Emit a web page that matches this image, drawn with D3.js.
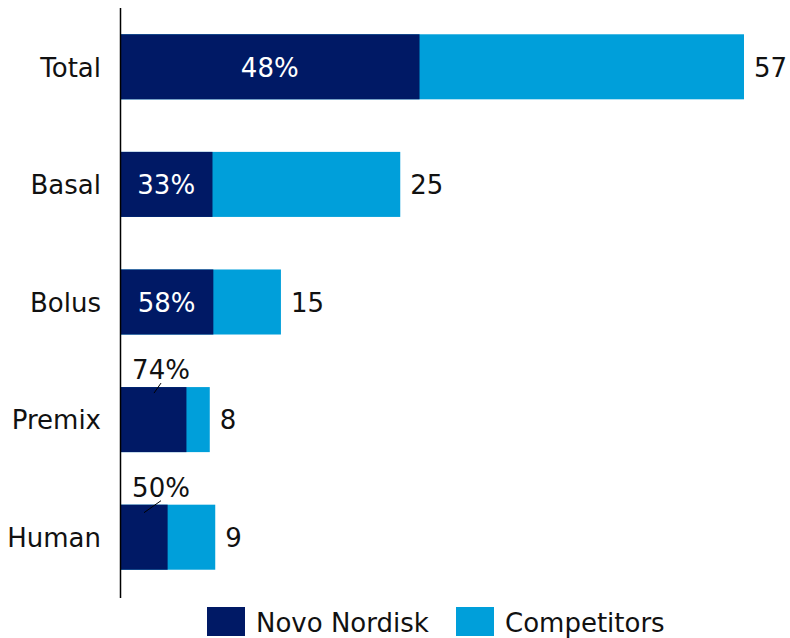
<!DOCTYPE html>
<html><head><meta charset="utf-8">
<script src="https://cdn.jsdelivr.net/npm/d3@7"></script>
<style>body{margin:0;background:#fff;}text{font-family:"DejaVu Sans",Verdana,sans-serif;}</style>
</head><body>
<svg id="c" width="790" height="638"></svg>
<script>
const categories = ["Total","Basal","Bolus","Premix","Human"];
const totals = [57,25.6,14.7,8.2,8.7];
const totalLabels = ["57","25","15","8","9"];
const novoShare = [48,33,58,74,50];
const seriesNames = ["Novo Nordisk","Competitors"];
const colors = ["#001965","#009FDA"];
const FS = 26;

const svg = d3.select("#c");
const x = d3.scaleLinear().domain([0,57]).range([120,744]);
const y = d3.scaleBand().domain(categories).range([8,596]).paddingInner(0.447).paddingOuter(0.2235);

const rows = categories.map((c,i)=>({cat:c,total:totals[i],novo:totals[i]*novoShare[i]/100,share:novoShare[i],label:totalLabels[i]}));

svg.selectAll("rect.comp").data(rows).enter().append("rect")
  .attr("x",x(0)).attr("y",d=>y(d.cat)).attr("width",d=>x(d.total)-x(0)).attr("height",y.bandwidth())
  .attr("fill",colors[1]);
svg.selectAll("rect.novo").data(rows).enter().append("rect")
  .attr("x",x(0)).attr("y",d=>y(d.cat)).attr("width",d=>x(d.novo)-x(0)).attr("height",y.bandwidth())
  .attr("fill",colors[0]);

svg.append("line").attr("x1",120.5).attr("x2",120.5).attr("y1",8).attr("y2",598).attr("stroke","#000").attr("stroke-width",1.5);

svg.selectAll("text.cat").data(rows).enter().append("text")
  .attr("x",101).attr("y",d=>y(d.cat)+y.bandwidth()/2).attr("dy","0.38em")
  .attr("text-anchor","end").attr("font-size",FS).attr("fill","#111").text(d=>d.cat);

svg.selectAll("text.tot").data(rows).enter().append("text")
  .attr("x",d=>x(d.total)+10).attr("y",d=>y(d.cat)+y.bandwidth()/2).attr("dy","0.38em")
  .attr("font-size",FS).attr("fill","#111").text(d=>d.label);

rows.forEach(d=>{
  const cy = y(d.cat)+y.bandwidth()/2;
  const inside = (x(d.novo)-x(0)) > 80;
  if(inside){
    svg.append("text").attr("x",(x(0)+x(d.novo))/2).attr("y",cy).attr("dy","0.38em")
      .attr("text-anchor","middle").attr("font-size",FS).attr("fill","#fff").text(d.share+"%");
  } else {
    const top = y(d.cat);
    svg.append("text").attr("x",161).attr("y",top-8)
      .attr("text-anchor","middle").attr("font-size",FS).attr("fill","#111").text(d.share+"%");
    const x1 = d.share>60 ? 154 : 144, y1 = d.share>60 ? top+6 : top+8;
    svg.append("line").attr("x1",x1).attr("y1",y1).attr("x2",161).attr("y2",top-4)
      .attr("stroke","#000").attr("stroke-width",1);
  }
});

const lg = svg.append("g");
const lx = [207,456];
seriesNames.forEach((n,i)=>{
  lg.append("rect").attr("x",lx[i]).attr("y",607).attr("width",38).attr("height",29).attr("fill",colors[i]);
  lg.append("text").attr("x",lx[i]+49).attr("y",622).attr("dy","0.38em").attr("font-size",FS).attr("fill","#111").text(n);
});
</script>
</body></html>
